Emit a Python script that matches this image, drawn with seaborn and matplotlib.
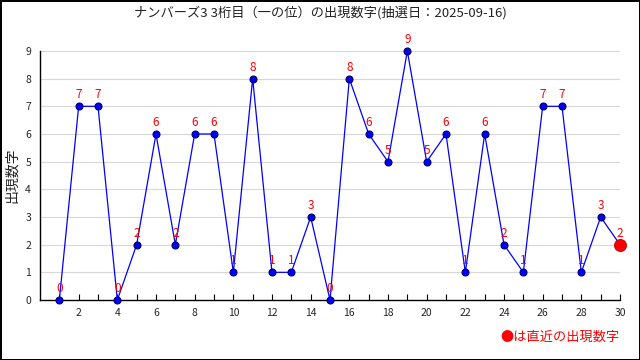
import matplotlib
matplotlib.use("Agg")
import matplotlib.pyplot as plt
import seaborn as sns
import pandas as pd

draws = list(range(1, 31))
digits = [0, 7, 7, 0, 2, 6, 2, 6, 6, 1, 8, 1, 1, 3, 0, 8, 6, 5, 9, 5, 6, 1, 6, 2, 1, 7, 7, 1, 3, 2]
title = "ナンバーズ3 3桁目（一の位）の出現数字(抽選日：2025-09-16)"
ylabel = "出現数字"
note = "●は直近の出現数字"

sns.set_theme(style="white")
plt.rcParams['font.family'] = ['Noto Sans CJK JP', 'DejaVu Sans']

df = pd.DataFrame({"draw": draws, "digit": digits})

fig = plt.figure(figsize=(6.4, 3.6), dpi=100)
fig.patch.set_edgecolor("black")
fig.patch.set_linewidth(2)
ax = fig.add_axes([40/640, 60/360, 580/640, 249/360])

for v in range(0, 10):
    ax.axhline(v, color="#d8d8d8", lw=0.8, zorder=0)

sns.lineplot(data=df, x="draw", y="digit", ax=ax, color="#0000ff", lw=0.9,
             marker="o", markersize=5, markerfacecolor="#0000ff",
             markeredgecolor="#000066", markeredgewidth=0.8, zorder=3, clip_on=False)
sns.scatterplot(x=[draws[-1]], y=[digits[-1]], ax=ax, color="#ff0000", s=75,
                edgecolor="#aa0000", linewidth=0.6, zorder=4, clip_on=False)

for xv, yv in zip(draws, digits):
    ax.annotate(str(yv), (xv, yv), xytext=(0, 3.5), textcoords="offset points",
                ha="center", va="bottom", color="#ff0000", fontsize=8.5, zorder=5,
                annotation_clip=False)

ax.set_xlim(0, 30)
ax.set_ylim(0, 9)
ax.set_xticks(range(2, 31, 2))
ax.set_xticks(range(1, 31), minor=True)
ax.set_yticks(range(0, 10))
ax.tick_params(axis="x", which="both", direction="in", length=4, width=0.8,
               color="black", labelsize=7.5, pad=6, bottom=True)
ax.tick_params(axis="y", length=0, labelsize=7.5, pad=8.5)
for lab in ax.get_yticklabels():
    lab.set_horizontalalignment("center")
ax.set_xlabel("")
ax.set_ylabel("")
for s in ["top", "right"]:
    ax.spines[s].set_visible(False)
for s in ["left", "bottom"]:
    ax.spines[s].set_color("black")
    ax.spines[s].set_linewidth(1)

fig.text(12/640, 1 - 175/360, ylabel, rotation=90, ha="center", va="center",
         fontsize=10, color="#222222")
fig.text(0.5, 1 - 13/360, title, ha="center", va="center", fontsize=9.5, color="#222222")
fig.text(620/640, 1 - 337/360, note, ha="right", va="center", fontsize=9.5, color="#ff0000")

fig.savefig("out.png", dpi=100)
